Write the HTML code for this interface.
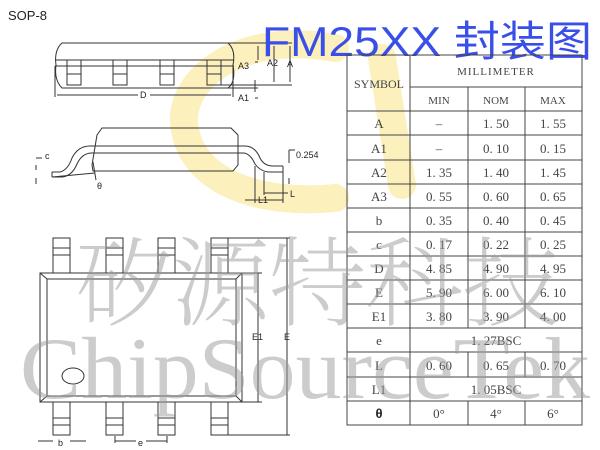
<!DOCTYPE html>
<html><head><meta charset="utf-8"><style>
html,body{margin:0;padding:0;background:#fff;}
body{width:600px;height:450px;position:relative;overflow:hidden;font-family:"Liberation Sans",sans-serif;}
svg{position:absolute;left:0;top:0;}
</style></head><body>
<svg width="600" height="450" viewBox="0 0 600 450" xmlns="http://www.w3.org/2000/svg">
<g fill="none" stroke="#fcf0bc" stroke-width="28" stroke-linecap="round">
<path d="M335 48 C240 30 175 80 185 130 C195 185 265 205 335 198"/>
<path d="M382 58 L402 185"/>
</g>
<text x="8" y="20" font-size="13" fill="#222">SOP-8</text>
<g fill="none" stroke="#333" stroke-width="1">
<path d="M62 43 L228 43 Q236 50 233 65 Q236 82 228 88 L62 88 Q54 80 56 65 Q54 50 62 43 Z"/>
<line x1="55" y1="60" x2="234" y2="60"/>
<line x1="55" y1="66" x2="234" y2="66"/>
<rect x="67" y="60" width="14" height="25"/><rect x="113" y="60" width="14" height="25"/>
<rect x="160" y="60" width="14" height="25"/><rect x="207" y="60" width="14" height="25"/>
<line x1="67" y1="74" x2="81" y2="74"/><line x1="113" y1="74" x2="127" y2="74"/>
<line x1="160" y1="74" x2="174" y2="74"/><line x1="207" y1="74" x2="221" y2="74"/>
<line x1="55" y1="66" x2="55" y2="97"/><line x1="233" y1="66" x2="233" y2="97"/>
<line x1="57" y1="95" x2="138" y2="95"/><line x1="150" y1="95" x2="231" y2="95"/>
<line x1="228" y1="43" x2="292" y2="43"/>
<line x1="221" y1="85" x2="292" y2="85"/><line x1="221" y1="88" x2="258" y2="88"/>
<line x1="258" y1="46" x2="258" y2="60"/><line x1="274" y1="46" x2="274" y2="82"/><line x1="290" y1="46" x2="290" y2="82"/>
<line x1="255" y1="62" x2="258" y2="62"/><line x1="255" y1="80" x2="255" y2="92"/><line x1="255" y1="98" x2="258" y2="98"/>
</g>
<g font-size="9" fill="#222">
<text x="140" y="98">D</text>
<text x="238" y="69">A3</text><text x="267" y="66">A2</text><text x="287" y="67">A</text>
<text x="238" y="101">A1</text>
</g>
<g fill="none" stroke="#333" stroke-width="1">
<path d="M97 135 L102 128 L231 128 L238 135 L238 165 L233 171 L93 171 L92 165 Z"/>
<path d="M52 172 L60 172 Q68 170 72 158 Q78 146 90 146 L245 146 Q255 146 260 158 Q264 166 273 166 L283 166"/>
<path d="M52 177 L62 177 Q72 176 77 164 Q82 153 92 153 L243 153 Q250 153 255 164 Q261 172 270 172 L283 172"/>
<line x1="52" y1="172" x2="52" y2="177"/><line x1="283" y1="166" x2="283" y2="172"/>
<path d="M52 177 L95 173"/><line x1="93" y1="162" x2="96" y2="180"/>
<line x1="36" y1="165" x2="36" y2="170"/><line x1="36" y1="178" x2="36" y2="184"/><line x1="36" y1="158" x2="42" y2="158"/>
<line x1="255" y1="166" x2="255" y2="203"/><line x1="283" y1="172" x2="283" y2="203"/><line x1="264" y1="172" x2="264" y2="195"/>
<line x1="264" y1="193" x2="288" y2="193"/><line x1="245" y1="200" x2="283" y2="200"/>
<line x1="289" y1="150" x2="289" y2="163"/><line x1="289" y1="150" x2="295" y2="150"/>
<line x1="289" y1="178" x2="289" y2="184"/>
</g>
<g font-size="9" fill="#222">
<text x="45" y="159">c</text><text x="296" y="158">0.254</text>
<text x="97" y="189">θ</text><text x="290" y="197">L</text><text x="258" y="203">L1</text>
</g>
<g fill="none" stroke="#333" stroke-width="1">
<rect x="40" y="273" width="202" height="129"/>
<rect x="47" y="279" width="189" height="117"/>
<line x1="40" y1="273" x2="47" y2="279"/><line x1="242" y1="273" x2="236" y2="279"/>
<line x1="40" y1="402" x2="47" y2="396"/><line x1="242" y1="402" x2="236" y2="396"/>
<ellipse cx="73" cy="376" rx="11" ry="8"/>
<rect x="53" y="238" width="17" height="35"/><line x1="53" y1="248" x2="70" y2="248"/><line x1="53" y1="255" x2="70" y2="255"/>
<rect x="106" y="238" width="17" height="35"/><line x1="106" y1="248" x2="123" y2="248"/><line x1="106" y1="255" x2="123" y2="255"/>
<rect x="158" y="238" width="17" height="35"/><line x1="158" y1="248" x2="175" y2="248"/><line x1="158" y1="255" x2="175" y2="255"/>
<rect x="211" y="238" width="17" height="35"/><line x1="211" y1="248" x2="228" y2="248"/><line x1="211" y1="255" x2="228" y2="255"/>
<rect x="53" y="402" width="17" height="33"/><line x1="53" y1="418" x2="70" y2="418"/><line x1="53" y1="425" x2="70" y2="425"/>
<rect x="106" y="402" width="17" height="33"/><line x1="106" y1="418" x2="123" y2="418"/><line x1="106" y1="425" x2="123" y2="425"/>
<rect x="158" y="402" width="17" height="33"/><line x1="158" y1="418" x2="175" y2="418"/><line x1="158" y1="425" x2="175" y2="425"/>
<rect x="211" y="402" width="17" height="33"/><line x1="211" y1="418" x2="228" y2="418"/><line x1="211" y1="425" x2="228" y2="425"/>
<line x1="228" y1="238" x2="290" y2="238"/><line x1="228" y1="435" x2="290" y2="435"/>
<line x1="242" y1="273" x2="262" y2="273"/><line x1="242" y1="402" x2="262" y2="402"/>
<line x1="287" y1="238" x2="287" y2="435"/><line x1="258" y1="273" x2="258" y2="402"/>
<line x1="38" y1="441" x2="53" y2="441"/><line x1="70" y1="441" x2="86" y2="441"/>
<line x1="115" y1="436" x2="115" y2="443"/><line x1="167" y1="436" x2="167" y2="443"/>
<line x1="115" y1="441" x2="136" y2="441"/><line x1="146" y1="441" x2="167" y2="441"/>
</g>
<g font-size="9" fill="#222">
<text x="252" y="340">E1</text><text x="284" y="340">E</text>
<text x="58" y="446">b</text><text x="138" y="446">e</text>
</g>
<text x="262" y="56" font-size="42" fill="#3a4fe8" font-family="Liberation Sans, 'Noto Sans CJK SC', sans-serif" textLength="330" lengthAdjust="spacingAndGlyphs">FM25XX 封装图</text>
<g fill="none" stroke="#444" stroke-width="1">
<rect x="347" y="55" width="235" height="370"/>
<line x1="410" y1="55" x2="410" y2="425"/>
<line x1="410" y1="87" x2="582" y2="87"/>
<line x1="347" y1="111" x2="582" y2="111"/>
<line x1="468" y1="87" x2="468" y2="328"/><line x1="525" y1="87" x2="525" y2="328"/>
<line x1="468" y1="352" x2="468" y2="377"/><line x1="525" y1="352" x2="525" y2="377"/>
<line x1="468" y1="401" x2="468" y2="425"/><line x1="525" y1="401" x2="525" y2="425"/>
<line x1="347" y1="135" x2="582" y2="135"/><line x1="347" y1="160" x2="582" y2="160"/>
<line x1="347" y1="184" x2="582" y2="184"/><line x1="347" y1="208" x2="582" y2="208"/>
<line x1="347" y1="232" x2="582" y2="232"/><line x1="347" y1="256" x2="582" y2="256"/>
<line x1="347" y1="280" x2="582" y2="280"/><line x1="347" y1="304" x2="582" y2="304"/>
<line x1="347" y1="328" x2="582" y2="328"/><line x1="347" y1="352" x2="582" y2="352"/>
<line x1="347" y1="377" x2="582" y2="377"/><line x1="347" y1="401" x2="582" y2="401"/>
</g>
<g font-family="Liberation Serif, serif" font-size="13" fill="#444" text-anchor="middle">
<text x="379" y="88" font-size="12">SYMBOL</text><text x="496" y="75" font-size="11" letter-spacing="1">MILLIMETER</text>
<text x="439" y="104" font-size="11">MIN</text><text x="496" y="104" font-size="11">NOM</text><text x="553" y="104" font-size="11">MAX</text>
<text x="379" y="128">A</text><text x="439" y="128">–</text><text x="496" y="128">1. 50</text><text x="553" y="128">1. 55</text>
<text x="379" y="153">A1</text><text x="439" y="153">–</text><text x="496" y="153">0. 10</text><text x="553" y="153">0. 15</text>
<text x="379" y="177">A2</text><text x="439" y="177">1. 35</text><text x="496" y="177">1. 40</text><text x="553" y="177">1. 45</text>
<text x="379" y="201">A3</text><text x="439" y="201">0. 55</text><text x="496" y="201">0. 60</text><text x="553" y="201">0. 65</text>
<text x="379" y="225">b</text><text x="439" y="225">0. 35</text><text x="496" y="225">0. 40</text><text x="553" y="225">0. 45</text>
<text x="379" y="249">c</text><text x="439" y="249">0. 17</text><text x="496" y="249">0. 22</text><text x="553" y="249">0. 25</text>
<text x="379" y="273">D</text><text x="439" y="273">4. 85</text><text x="496" y="273">4. 90</text><text x="553" y="273">4. 95</text>
<text x="379" y="297">E</text><text x="439" y="297">5. 90</text><text x="496" y="297">6. 00</text><text x="553" y="297">6. 10</text>
<text x="379" y="321">E1</text><text x="439" y="321">3. 80</text><text x="496" y="321">3. 90</text><text x="553" y="321">4. 00</text>
<text x="379" y="345">e</text><text x="496" y="345">1. 27BSC</text>
<text x="379" y="370">L</text><text x="439" y="370">0. 60</text><text x="496" y="370">0. 65</text><text x="553" y="370">0. 70</text>
<text x="379" y="394">L1</text><text x="496" y="394">1. 05BSC</text>
<text x="379" y="418" font-family="Liberation Sans, sans-serif" font-weight="bold" fill="#222">θ</text><text x="439" y="418">0°</text><text x="496" y="418">4°</text><text x="553" y="418">6°</text>
</g>
<g fill="#999" fill-opacity="0.5">
<text x="75" y="318" font-size="98" font-family="'Noto Serif CJK SC', serif" font-weight="200" textLength="485">矽源特科技</text>
<text x="20" y="398" font-size="88" font-family="Liberation Serif, serif" textLength="570" lengthAdjust="spacingAndGlyphs">ChipSourceTek</text>
</g>
</svg>
</body></html>
